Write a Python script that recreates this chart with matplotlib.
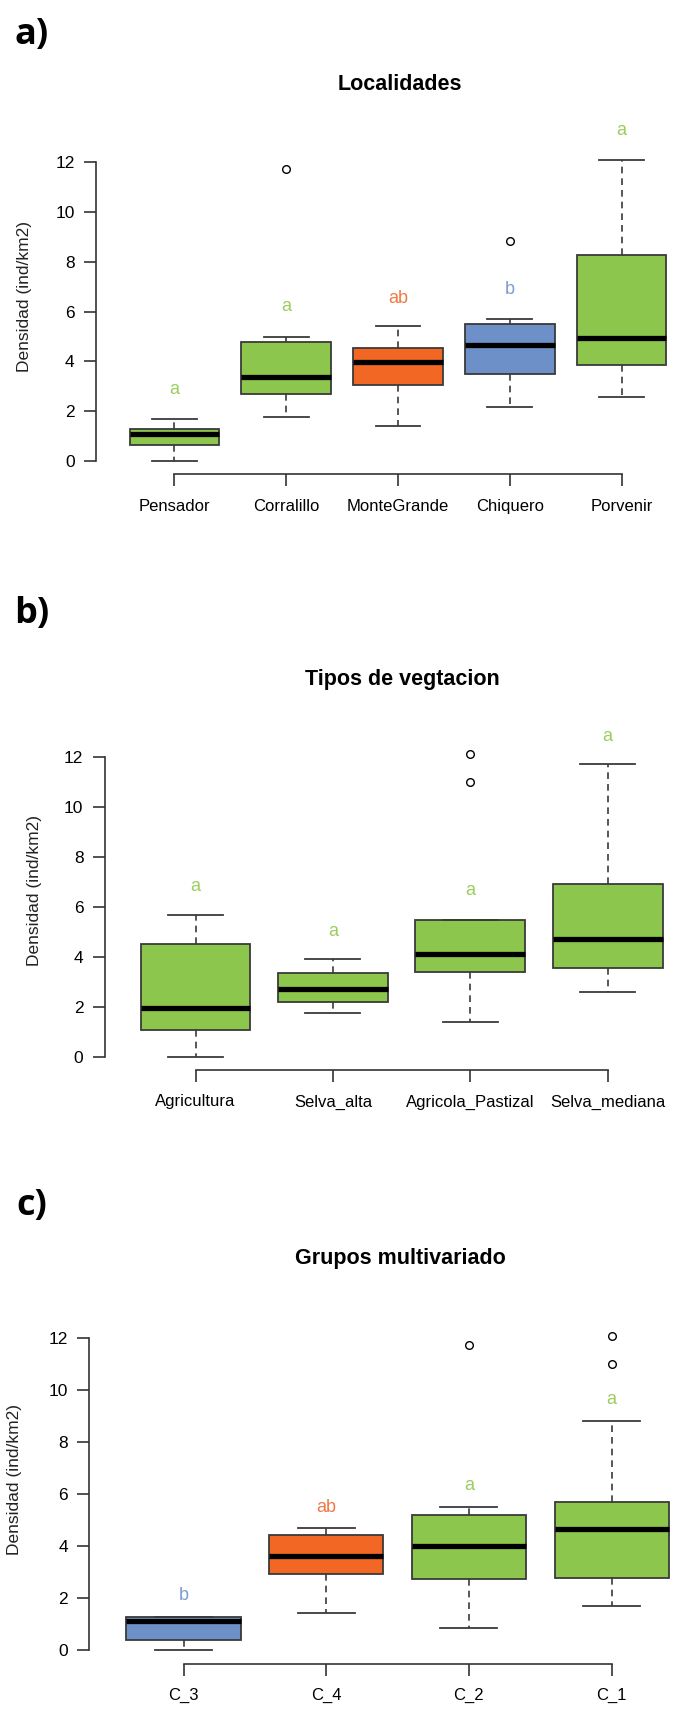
import matplotlib
matplotlib.use("Agg")
import matplotlib.pyplot as plt

plt.rcParams['font.family'] = ['Liberation Sans', 'DejaVu Sans']

# ---- data ----
loc_names = ['Pensador', 'Corralillo', 'MonteGrande', 'Chiquero', 'Porvenir']
loc_q1 = [0.63, 2.68, 3.04, 3.51, 3.87]
loc_med = [1.09, 3.36, 3.96, 4.65, 4.95]
loc_q3 = [1.28, 4.78, 4.55, 5.52, 8.27]
loc_lo = [0.0, 1.78, 1.41, 2.18, 2.58]
loc_hi = [1.69, 4.99, 5.41, 5.69, 12.09]
loc_out = [[], [11.74], [], [8.85], []]
loc_letters = ['a', 'a', 'ab', 'b', 'a']
loc_letter_y = [2.89, 6.2, 6.53, 6.87, 13.29]
loc_groups = ['g', 'g', 'o', 'b', 'g']

veg_names = ['Agricultura', 'Selva_alta', 'Agricola_Pastizal', 'Selva_mediana']
veg_q1 = [1.07, 2.2, 3.39, 3.53]
veg_med = [1.93, 2.71, 4.12, 4.71]
veg_q3 = [4.52, 3.33, 5.48, 6.91]
veg_lo = [0.0, 1.76, 1.39, 2.57]
veg_hi = [5.67, 3.89, 5.48, 11.72]
veg_out = [[], [], [11.0, 12.09], []]
veg_letters = ['a', 'a', 'a', 'a']
veg_letter_y = [6.8, 5.0, 6.63, 12.8]
veg_groups = ['g', 'g', 'g', 'g']

grp_names = ['C_3', 'C_4', 'C_2', 'C_1']
grp_q1 = [0.36, 2.91, 2.7, 2.77]
grp_med = [1.09, 3.61, 4.0, 4.63]
grp_q3 = [1.27, 4.4, 5.17, 5.68]
grp_lo = [0.0, 1.39, 0.84, 1.68]
grp_hi = [1.27, 4.67, 5.48, 8.81]
grp_out = [[], [], [11.73], [11.0, 12.09]]
grp_letters = ['b', 'ab', 'a', 'a']
grp_letter_y = [2.07, 5.48, 6.34, 9.66]
grp_groups = ['b', 'o', 'g', 'g']

box_col = {'g': '#8dc64c', 'o': '#f26724', 'b': '#6d90c8'}
txt_col = {'g': '#9ccd5e', 'o': '#f07a45', 'b': '#7d9dd3'}

W, H = 676, 1710
fig = plt.figure(figsize=(W / 100, H / 100), dpi=100)

YLIM = (-0.54, 13.74)


def panel(c1, sp, y0, ppu, names, q1, med, q3, lo, hi, out, letters, ly, groups):
    n = len(names)
    xlo, xhi = 0.5 - 0.04 * n, n + 0.5 + 0.04 * n
    left = c1 + (xlo - 1) * sp
    width = (xhi - xlo) * sp
    bot = y0 - YLIM[0] * ppu
    top = y0 - YLIM[1] * ppu
    ax = fig.add_axes([left / W, 1 - bot / H, width / W, (bot - top) / H])

    stats = []
    for i in range(n):
        stats.append(dict(med=med[i], q1=q1[i], q3=q3[i], whislo=lo[i],
                          whishi=hi[i], fliers=out[i]))
    bp = ax.bxp(stats, positions=range(1, n + 1), widths=0.8, patch_artist=True,
                capwidths=0.4,
                boxprops=dict(edgecolor='#3a3a3a', linewidth=1.3),
                medianprops=dict(color='black', linewidth=3.8, solid_capstyle='butt'),
                whiskerprops=dict(color='#3a3a3a', linewidth=1.2, linestyle=(0, (4, 3))),
                capprops=dict(color='#3a3a3a', linewidth=1.3),
                flierprops=dict(marker='o', markerfacecolor='white',
                                markeredgecolor='black', markersize=5.5,
                                markeredgewidth=1.0))
    for patch, g in zip(bp['boxes'], groups):
        patch.set_facecolor(box_col[g])

    for i in range(n):
        ax.text(i + 1, ly[i], letters[i], color=txt_col[groups[i]], fontsize=13,
                ha='center', va='center', clip_on=False)

    ax.set_xlim(xlo, xhi)
    ax.set_ylim(*YLIM)
    ax.set_xticks(range(1, n + 1))
    ax.set_xticklabels(names, fontsize=12)
    ax.set_yticks([0, 2, 4, 6, 8, 10, 12])
    ax.tick_params(axis='y', labelsize=12.5, length=8.4, width=1.2,
                   color='#333333', pad=7)
    ax.tick_params(axis='x', length=8.4, width=1.2, color='#333333', pad=9)
    for s in ['top', 'right']:
        ax.spines[s].set_visible(False)
    ax.spines['left'].set_bounds(0, 12)
    ax.spines['bottom'].set_bounds(1, n)
    for s in ['left', 'bottom']:
        ax.spines[s].set_color('#333333')
        ax.spines[s].set_linewidth(1.2)
    ax.patch.set_alpha(0)
    return ax


panel(174.3, 111.85, 461.0, 24.9, loc_names, loc_q1, loc_med, loc_q3, loc_lo,
      loc_hi, loc_out, loc_letters, loc_letter_y, loc_groups)
panel(195.5, 137.4, 1056.7, 25.0, veg_names, veg_q1, veg_med, veg_q3, veg_lo,
      veg_hi, veg_out, veg_letters, veg_letter_y, veg_groups)
panel(183.5, 142.7, 1649.5, 25.93, grp_names, grp_q1, grp_med, grp_q3, grp_lo,
      grp_hi, grp_out, grp_letters, grp_letter_y, grp_groups)

# titles, y labels, panel tags
titles = ['Localidades', 'Tipos de vegtacion', 'Grupos multivariado']
title_px = [(400, 85), (402, 680), (400, 1258)]
ylab_px = [(25, 296), (35, 891), (15, 1479)]
tags = ['a)', 'b)', 'c)']
tag_px = [(14, 35), (14, 614), (16, 1206)]

for t, (x, y) in zip(titles, title_px):
    fig.text(x / W, 1 - y / H, t, fontsize=15.5, fontweight='bold',
             ha='center', va='center')
for (x, y) in ylab_px:
    fig.text(x / W, 1 - y / H, 'Densidad (ind/km2)', fontsize=12.5,
             rotation=90, ha='center', va='center', color='#222222')
for t, (x, y) in zip(tags, tag_px):
    fig.text(x / W, 1 - y / H, t, fontsize=26, fontweight='bold',
             family=['Open Sans', 'DejaVu Sans'], ha='left', va='center')

fig.savefig('out.png', dpi=100)
